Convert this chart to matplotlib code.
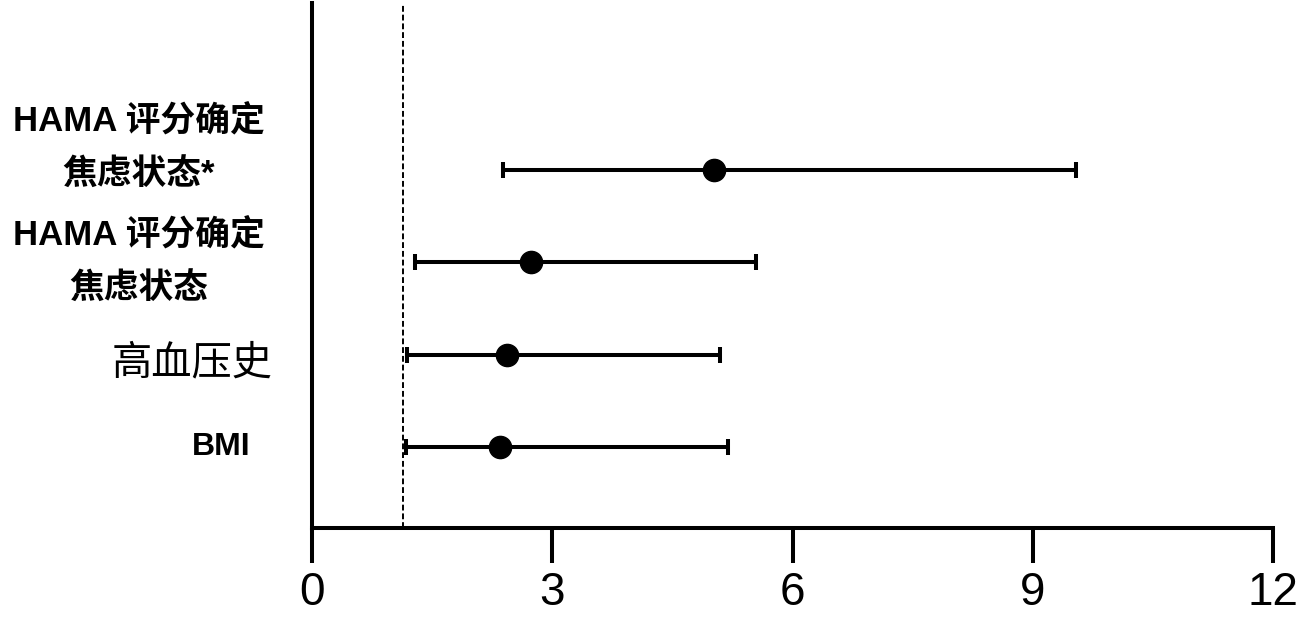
import matplotlib
matplotlib.use("Agg")
import matplotlib.pyplot as plt

plt.rcParams['font.family'] = ['Liberation Sans', 'Noto Sans CJK SC', 'DejaVu Sans']

labels = ["HAMA 评分确定\n焦虑状态*", "HAMA 评分确定\n焦虑状态", "高血压史", "BMI"]
odds = [5.02, 2.73, 2.44, 2.35]
ci_low = [2.38, 1.29, 1.18, 1.17]
ci_high = [9.54, 5.55, 5.09, 5.19]
ref_line = 1.13
xticks = [0, 3, 6, 9, 12]

rows = [4, 3, 2, 1]

fig = plt.figure(figsize=(12.99, 6.18), dpi=100)
ax = fig.add_axes([0.2402, 0.1456, 0.7398, 0.8495])

err = [[o - l for o, l in zip(odds, ci_low)], [h - o for o, h in zip(odds, ci_high)]]
ax.errorbar(odds, rows, xerr=err, fmt='o', color='black', ms=16,
            elinewidth=2.9, capsize=5.5, capthick=2.9)
ax.axvline(ref_line, color='black', lw=1.4, ls=(0, (3, 1.5)))

ax.set_xlim(0, 12)
ax.set_ylim(0.12, 5.81)
ax.set_xticks(xticks)
ax.set_xticklabels([str(t) for t in xticks], fontsize=33)
ax.tick_params(axis='x', length=25, width=2.9, pad=6)
ax.set_yticks([])
for s in ['top', 'right']:
    ax.spines[s].set_visible(False)
for s in ['left', 'bottom']:
    ax.spines[s].set_linewidth(2.9)

# row labels
tr = ax.get_yaxis_transform()
ax.text(-0.18, rows[0] + 0.24, labels[0], transform=tr, ha='center', va='center',
        fontsize=25, fontweight='bold', linespacing=1.75)
ax.text(-0.18, rows[1], labels[1], transform=tr, ha='center', va='center',
        fontsize=25, fontweight='bold', linespacing=1.75)
ax.text(-0.125, rows[2] - 0.1, labels[2], transform=tr, ha='center', va='center',
        fontsize=29)
ax.text(-0.094, rows[3], labels[3], transform=tr, ha='center', va='center',
        fontsize=23, fontweight='bold')

fig.savefig("out.png", dpi=100)
